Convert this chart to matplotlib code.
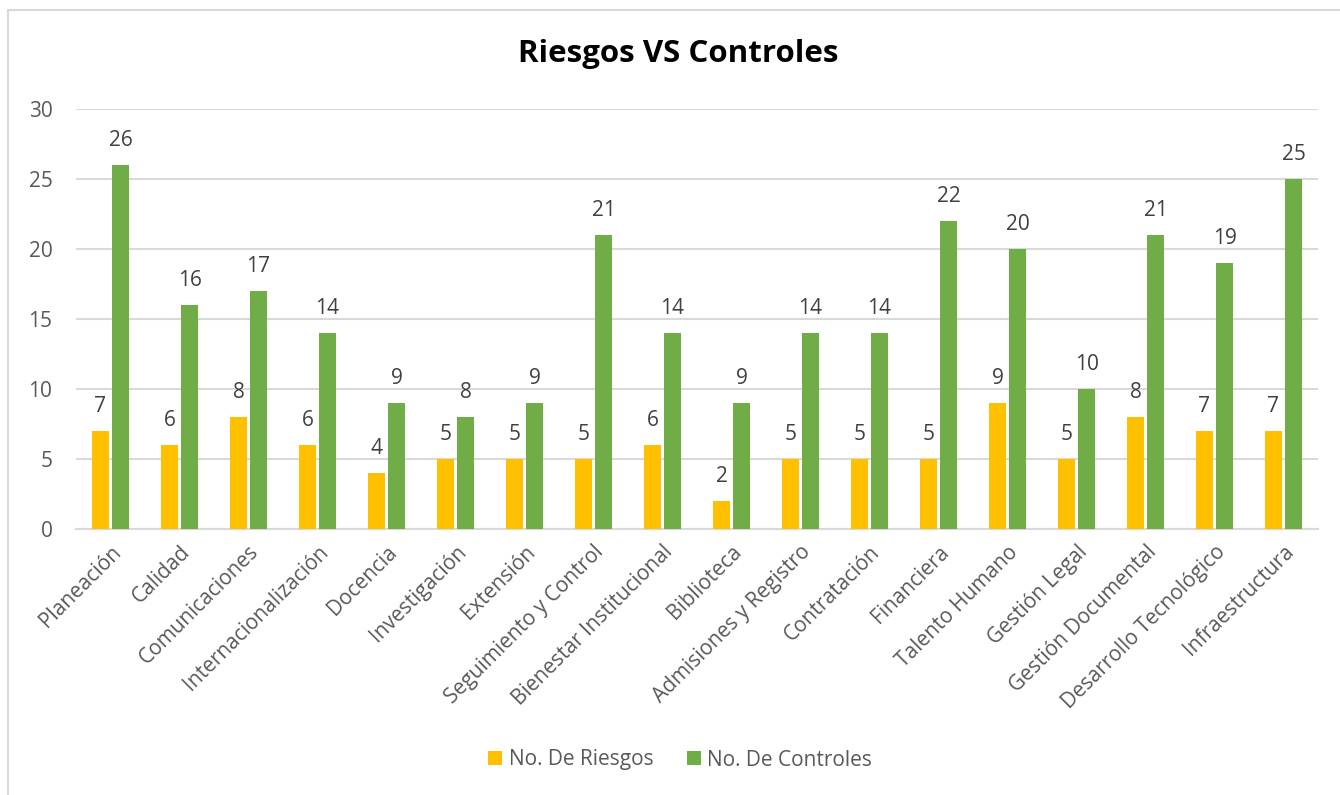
import numpy as np
import matplotlib.pyplot as plt
from matplotlib.patches import Rectangle

# datos
areas = ["Planeación", "Calidad", "Comunicaciones", "Internacionalización", "Docencia",
         "Investigación", "Extensión", "Seguimiento y Control", "Bienestar Institucional",
         "Biblioteca", "Admisiones y Registro", "Contratación", "Financiera", "Talento Humano",
         "Gestión Legal", "Gestión Documental", "Desarrollo Tecnológico", "Infraestructura"]
riesgos = [7, 6, 8, 6, 4, 5, 5, 5, 6, 2, 5, 5, 5, 9, 5, 8, 7, 7]
controles = [26, 16, 17, 14, 9, 8, 9, 21, 14, 9, 14, 14, 22, 20, 10, 21, 19, 25]

AMARILLO = "#FFC000"
VERDE = "#70AD47"
GRIS_TXT = "#595959"

plt.rcParams['font.family'] = ['Open Sans', 'DejaVu Sans']

fig = plt.figure(figsize=(13.4, 7.95), dpi=100)
ax = fig.add_axes([76 / 1340, 1 - 529 / 795, (1318 - 76) / 1340, (529 - 109) / 795])

# borde del area del grafico
fig.patches.append(Rectangle((8 / 1340, -0.1), 1.2, 1 - 10 / 795 + 0.1, transform=fig.transFigure,
                             fill=False, edgecolor="#D9D9D9", linewidth=1.5))

x = np.arange(len(areas))
w = 0.235
off = 0.145
b1 = ax.bar(x - off, riesgos, w, color=AMARILLO, label="No. De Riesgos", zorder=3)
b2 = ax.bar(x + off, controles, w, color=VERDE, label="No. De Controles", zorder=3)

for barras in (b1, b2):
    for r in barras:
        ax.annotate(f"{int(r.get_height())}", (r.get_x() + r.get_width() / 2, r.get_height()),
                    xytext=(0, 10), textcoords="offset points", ha="center", va="bottom",
                    fontsize=15, color="#404040")

ax.set_xlim(-0.5, len(areas) - 0.5)
ax.set_ylim(0, 30)
ax.set_yticks(range(0, 31, 5))
ax.yaxis.grid(True, color="#D9D9D9", linewidth=1.5, zorder=0)
ax.tick_params(axis="y", length=0, labelsize=15, labelcolor=GRIS_TXT, pad=17)
ax.tick_params(axis="x", length=0, labelsize=15, labelcolor=GRIS_TXT, pad=9)
ax.set_xticks(x)
ax.set_xticklabels(areas, rotation=45, ha="right", rotation_mode="anchor")
for s in ax.spines.values():
    s.set_visible(False)
ax.spines["bottom"].set_visible(True)
ax.spines["bottom"].set_color("#D9D9D9")
ax.spines["bottom"].set_linewidth(1.5)

fig.text(678 / 1340, 1 - 54 / 795, "Riesgos VS Controles", ha="center", va="center",
         fontsize=22.5, fontweight="bold", color="black")

fig.legend(handles=[b1, b2], loc="center", bbox_to_anchor=(680 / 1340, 1 - 760 / 795),
           ncol=2, frameon=False, fontsize=15, labelcolor=GRIS_TXT, handlelength=0.67,
           handleheight=0.67, handletextpad=0.3, columnspacing=1.6)

fig.savefig("out.png", dpi=100)
